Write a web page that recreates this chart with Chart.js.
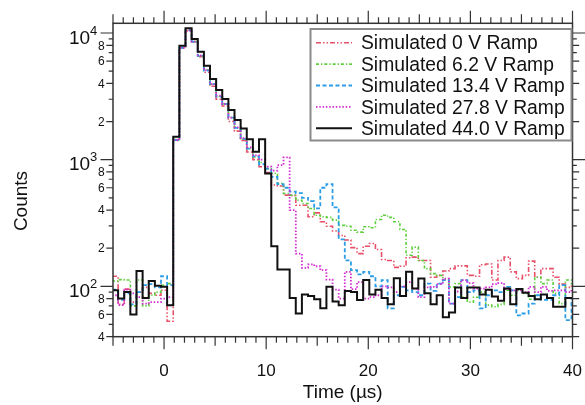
<!DOCTYPE html>
<html lang="en">
<head>
<meta charset="UTF-8">
<title>Simulated Ramp Counts</title>
<script src="https://cdn.jsdelivr.net/npm/chart.js"></script>
<style>
    body { margin: 0; background: #fff; }
    canvas { display: block; }
</style>
</head>
<body>
<canvas id="chartCanvas" width="585" height="405"></canvas>
<script>
// time bins in µs (0.6 µs wide, first bin starts at -5.1)
const binStart = -5.1;
const binWidth = 0.6;

const ramp0 = [120, 72, 95, 75, 90, 98, 88, 85, 93, 53,
    1420, 7600, 10400, 8450, 6500, 4900, 3800, 3000, 2650, 2000,
    1680, 1420, 1150, 1000, 880, 790, 630, 620, 525, 520,
    437, 437, 354, 380, 323, 298, 273, 252, 232, 202,
    181, 207, 218, 195, 163, 160, 141, 144, 168, 170,
    160, 160, 118, 122, 132, 138, 145, 145, 122, 120,
    148, 150, 112, 160, 170, 130, 115, 122, 158, 118,
    138, 138, 118, 104, 98, 100];
const ramp6 = [110, 113, 112, 70, 112, 70, 85, 90, 102, 105,
    1440, 7650, 10500, 8550, 6600, 5100, 3950, 3150, 2750, 2150,
    1780, 1460, 1220, 1050, 950, 850, 780, 650, 540, 525,
    478, 450, 412, 364, 354, 350, 333, 303, 298, 277,
    268, 295, 290, 337, 364, 350, 323, 281, 176, 204,
    160, 138, 126, 122, 112, 99, 105, 82, 75, 82,
    90, 71, 69, 72, 93, 85, 93, 88, 79, 118,
    105, 112, 88, 73, 112, 105];
const ramp13 = [94, 78, 88, 72, 90, 102, 104, 98, 120, 102,
    1430, 7650, 10500, 8550, 6600, 5050, 3950, 3150, 2750, 2150,
    1780, 1460, 1220, 1060, 920, 850, 730, 640, 600, 560,
    545, 500, 470, 412, 600, 640, 420, 235, 160, 134,
    124, 130, 120, 100, 112, 67, 85, 99, 93, 90,
    85, 105, 92, 105, 112, 73, 82, 112, 90, 93,
    67, 85, 93, 90, 99, 93, 59, 61, 73, 85,
    78, 78, 85, 102, 54, 80];
const ramp27 = [85, 71, 94, 88, 82, 73, 75, 75, 80, 82,
    1430, 7650, 10500, 8550, 6650, 5100, 3950, 3200, 2750, 2150,
    1800, 1480, 1250, 1080, 1000, 880, 820, 904, 1041, 399,
    181, 140, 149, 144, 134, 113, 94, 80, 130, 95,
    108, 80, 82, 85, 100, 98, 90, 100, 108, 96,
    82, 98, 99, 104, 115, 73, 91, 112, 106, 96,
    96, 98, 104, 106, 95, 93, 93, 90, 99, 90,
    99, 92, 93, 93, 90, 95];
const ramp44 = [93, 80, 90, 60, 132, 81, 110, 101, 99, 71,
    1514, 7935, 10890, 8967, 7114, 5514, 4330, 3542, 3008, 2462,
    2052, 1765, 1452, 1153, 1447, 778, 207, 136, 136, 81,
    61, 86, 84, 79, 67, 99, 76, 71, 92, 90,
    78, 112, 86, 94, 81, 72, 116, 84, 130, 96,
    115, 88, 72, 85, 57, 62, 98, 81, 98, 98,
    86, 94, 83, 77, 96, 72, 95, 89, 84, 79,
    86, 81, 69, 69, 81, 81];

const seriesNames = ['Simulated 0 V Ramp', 'Simulated 6.2 V Ramp', 'Simulated 13.4 V Ramp',
    'Simulated 27.8 V Ramp', 'Simulated 44.0 V Ramp'];
const xTickLabels = [0, 10, 20, 30, 40];

const FONT = '"Liberation Sans", Arial, sans-serif';

const binEdges = Array.from({ length: ramp0.length + 1 }, (_, i) => +(binStart + i * binWidth).toFixed(2));

// one point per left bin edge, plus the closing right edge
function toSteps(values) {
    const pts = values.map((v, i) => ({ x: binEdges[i], y: v }));
    pts.push({ x: binEdges[values.length], y: values[values.length - 1] });
    return pts;
}

const styles = [
    { color: '#e8506a', width: 1.6, dash: [5, 2, 1.5, 2, 1.5, 2] },
    { color: '#5dcf3c', width: 1.6, dash: [3, 2, 1.3, 2] },
    { color: '#2a9de6', width: 1.8, dash: [4, 2.5] },
    { color: '#d22bd2', width: 1.8, dash: [1.5, 1.8] },
    { color: '#111111', width: 2, dash: [] }
];
const allSeries = [ramp0, ramp6, ramp13, ramp27, ramp44];

// frame, ticks, labels and legend drawn Igor-style
const igorAxes = {
    id: 'igorAxes',
    afterDatasetsDraw(chart) {
        const { ctx, chartArea: a, scales: { x, y } } = chart;
        ctx.save();
        ctx.strokeStyle = '#333';
        ctx.fillStyle = '#111';
        ctx.lineWidth = 1.5;
        ctx.strokeRect(a.left, a.top, a.right - a.left, a.bottom - a.top);

        // x ticks, bottom and top
        ctx.lineWidth = 1.2;
        ctx.beginPath();
        for (let t = -5; t <= 40; t++) {
            const px = x.getPixelForValue(t);
            const len = t % 10 === 0 ? 12.5 : (t % 5 === 0 ? 9 : 6);
            ctx.moveTo(px, a.bottom); ctx.lineTo(px, a.bottom + len);
            ctx.moveTo(px, a.top); ctx.lineTo(px, a.top - len);
        }
        // y ticks, left and right
        const yLabels = [];
        for (let d = 1; d <= 4; d++) {
            for (let m = 1; m <= 9; m++) {
                const v = m * Math.pow(10, d);
                if (v < y.min - 0.01 || v > y.max) continue;
                const py = y.getPixelForValue(v);
                const len = m === 1 ? 12.5 : (m % 2 === 0 ? 6.7 : 4.3);
                ctx.moveTo(a.left, py); ctx.lineTo(a.left - len, py);
                ctx.moveTo(a.right, py); ctx.lineTo(a.right + len, py);
                if (m === 1) yLabels.push({ py, major: true, text: String(d) });
                else if (m % 2 === 0) yLabels.push({ py, major: false, text: String(m) });
            }
        }
        ctx.stroke();

        // x tick labels
        ctx.font = '17px ' + FONT;
        ctx.textAlign = 'center';
        ctx.textBaseline = 'alphabetic';
        xTickLabels.forEach(t => ctx.fillText(String(t), x.getPixelForValue(t), a.bottom + 39));

        // y tick labels
        yLabels.forEach(l => {
            if (l.major) {
                const right = a.left - 15.7;
                ctx.font = '13px ' + FONT;
                const ws = ctx.measureText(l.text).width;
                ctx.textAlign = 'left';
                ctx.fillText(l.text, right - ws, l.py + 1.5);
                ctx.font = '19px ' + FONT;
                ctx.textAlign = 'right';
                ctx.fillText('10', right - ws, l.py + 10.5);
            } else {
                ctx.font = '12px ' + FONT;
                ctx.textAlign = 'right';
                ctx.fillText(l.text, a.left - 8.4, l.py + 4.3);
            }
        });

        // axis titles
        ctx.font = '19px ' + FONT;
        ctx.textAlign = 'center';
        ctx.fillText('Time (µs)', (a.left + a.right) / 2, 398);
        ctx.save();
        ctx.translate(22, 201);
        ctx.rotate(-Math.PI / 2);
        ctx.textBaseline = 'middle';
        ctx.fillText('Counts', 0, 0);
        ctx.restore();

        // legend box
        const bx = { left: 310.5, top: 29, right: a.right - 1, bottom: 140.5 };
        ctx.fillStyle = '#fff';
        ctx.fillRect(bx.left, bx.top, bx.right - bx.left, bx.bottom - bx.top);
        ctx.strokeStyle = '#8a8a8a';
        ctx.lineWidth = 2;
        ctx.strokeRect(bx.left, bx.top, bx.right - bx.left, bx.bottom - bx.top);
        ctx.font = '19.3px ' + FONT;
        ctx.textAlign = 'left';
        seriesNames.forEach((name, i) => {
            const ry = 42.7 + i * 21.4;
            ctx.beginPath();
            ctx.strokeStyle = styles[i].color;
            ctx.lineWidth = styles[i].width;
            ctx.setLineDash(styles[i].dash);
            ctx.moveTo(316, ry); ctx.lineTo(352, ry);
            ctx.stroke();
            ctx.setLineDash([]);
            ctx.fillStyle = '#111';
            ctx.fillText(name, 361, ry + 6.6);
        });
        ctx.restore();
    }
};

const chart = new Chart(document.getElementById('chartCanvas'), {
    type: 'line',
    data: {
        datasets: allSeries.map((vals, i) => ({
            label: seriesNames[i],
            data: toSteps(vals),
            borderColor: styles[i].color,
            borderWidth: styles[i].width,
            borderDash: styles[i].dash,
            stepped: true,
            pointRadius: 0,
            fill: false,
            order: 4 - i
        }))
    },
    options: {
        responsive: false,
        animation: false,
        layout: { padding: { left: 113, right: 12.5, top: 23.3, bottom: 68.3 } },
        scales: {
            x: { type: 'linear', min: -5, max: 40, display: false },
            y: { type: 'logarithmic', min: 40, max: 11930, display: false }
        },
        plugins: {
            legend: { display: false },
            tooltip: { enabled: false }
        }
    },
    plugins: [igorAxes]
});
</script>
</body>
</html>
